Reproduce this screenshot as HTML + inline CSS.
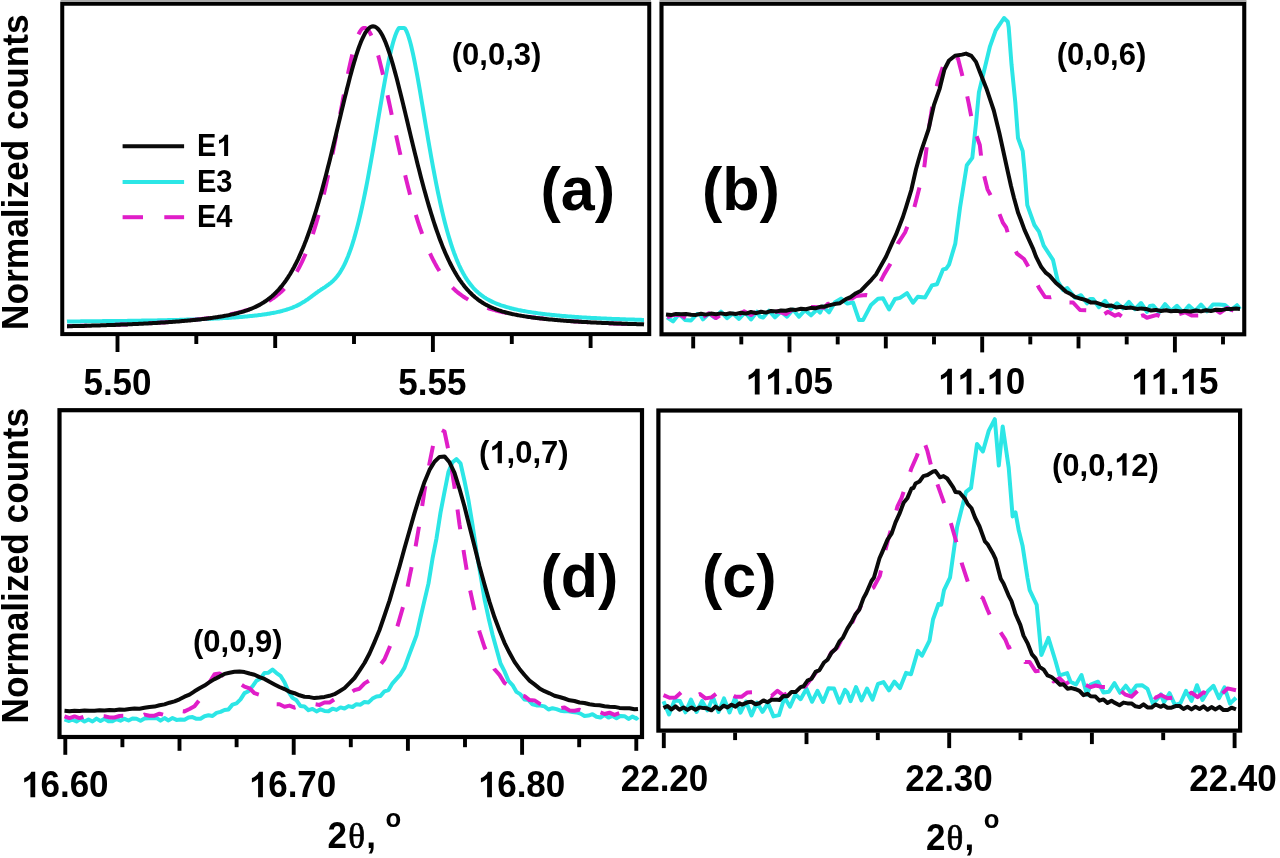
<!DOCTYPE html>
<html><head><meta charset="utf-8"><title>XRD peaks</title>
<style>html,body{margin:0;padding:0;background:#fff;}svg{display:block;filter:blur(0.55px);}</style>
</head><body>
<svg width="1280" height="858" viewBox="0 0 1280 858">
<rect width="1280" height="858" fill="#fff"/>
<defs><clipPath id="cla"><rect x="64.2" y="5.8" width="583.0" height="326.4"/></clipPath><clipPath id="clb"><rect x="663.5" y="5.8" width="578.6" height="326.4"/></clipPath><clipPath id="cld"><rect x="61.6" y="412.3" width="578.3" height="322.6"/></clipPath><clipPath id="clc"><rect x="660.5" y="412.6" width="577.5" height="315.9"/></clipPath></defs>
<g clip-path="url(#cla)">
<path d="M67.0 321.5L68.0 321.4L69.0 321.4L70.0 321.4L71.0 321.4L72.0 321.4L73.0 321.4L74.0 321.4L75.0 321.4L76.0 321.4L77.0 321.4L78.0 321.4L79.0 321.4L80.0 321.4L81.0 321.3L82.0 321.3L83.0 321.3L84.0 321.3L85.0 321.3L86.0 321.3L87.0 321.3L88.0 321.3L89.0 321.3L90.0 321.3L91.0 321.3L92.0 321.2L93.0 321.2L94.0 321.2L95.0 321.2L96.0 321.2L97.0 321.2L98.0 321.2L99.0 321.2L100.0 321.2L101.0 321.2L102.0 321.2L103.0 321.1L104.0 321.1L105.0 321.1L106.0 321.1L107.0 321.1L108.0 321.1L109.0 321.1L110.0 321.1L111.0 321.1L112.0 321.0L113.0 321.0L114.0 321.0L115.0 321.0L116.0 321.0L117.0 321.0L118.0 321.0L119.0 321.0L120.0 320.9L121.0 320.9L122.0 320.9L123.0 320.9L124.0 320.9L125.0 320.9L126.0 320.9L127.0 320.9L128.0 320.8L129.0 320.8L130.0 320.8L131.0 320.8L132.0 320.8L133.0 320.8L134.0 320.8L135.0 320.7L136.0 320.7L137.0 320.7L138.0 320.7L139.0 320.7L140.0 320.7L141.0 320.7L142.0 320.6L143.0 320.6L144.0 320.6L145.0 320.6L146.0 320.6L147.0 320.6L148.0 320.5L149.0 320.5L150.0 320.5L151.0 320.5L152.0 320.5L153.0 320.4L154.0 320.4L155.0 320.4L156.0 320.4L157.0 320.4L158.0 320.3L159.0 320.3L160.0 320.3L161.0 320.3L162.0 320.3L163.0 320.2L164.0 320.2L165.0 320.2L166.0 320.2L167.0 320.2L168.0 320.1L169.0 320.1L170.0 320.1L171.0 320.1L172.0 320.0L173.0 320.0L174.0 320.0L175.0 320.0L176.0 319.9L177.0 319.9L178.0 319.9L179.0 319.9L180.0 319.8L181.0 319.8L182.0 319.8L183.0 319.7L184.0 319.7L185.0 319.7L186.0 319.7L187.0 319.6L188.0 319.6L189.0 319.6L190.0 319.5L191.0 319.5L192.0 319.5L193.0 319.4L194.0 319.4L195.0 319.4L196.0 319.3L197.0 319.3L198.0 319.3L199.0 319.2L200.0 319.2L201.0 319.2L202.0 319.1L203.0 319.1L204.0 319.0L205.0 319.0L206.0 319.0L207.0 318.9L208.0 318.9L209.0 318.8L210.0 318.8L211.0 318.7L212.0 318.7L213.0 318.7L214.0 318.6L215.0 318.6L216.0 318.5L217.0 318.5L218.0 318.4L219.0 318.4L220.0 318.3L221.0 318.3L222.0 318.2L223.0 318.1L224.0 318.1L225.0 318.0L226.0 318.0L227.0 317.9L228.0 317.9L229.0 317.8L230.0 317.7L231.0 317.7L232.0 317.6L233.0 317.5L234.0 317.5L235.0 317.4L236.0 317.3L237.0 317.2L238.0 317.2L239.0 317.1L240.0 317.0L241.0 316.9L242.0 316.9L243.0 316.8L244.0 316.7L245.0 316.6L246.0 316.5L247.0 316.4L248.0 316.3L249.0 316.2L250.0 316.1L251.0 316.0L252.0 315.9L253.0 315.8L254.0 315.7L255.0 315.6L256.0 315.5L257.0 315.4L258.0 315.2L259.0 315.1L260.0 315.0L261.0 314.9L262.0 314.7L263.0 314.6L264.0 314.5L265.0 314.3L266.0 314.2L267.0 314.0L268.0 313.8L269.0 313.7L270.0 313.5L271.0 313.3L272.0 313.1L273.0 313.0L274.0 312.8L275.0 312.6L276.0 312.4L277.0 312.1L278.0 311.9L279.0 311.7L280.0 311.5L281.0 311.2L282.0 311.0L283.0 310.7L284.0 310.4L285.0 310.1L286.0 309.8L287.0 309.5L288.0 309.2L289.0 308.9L290.0 308.5L291.0 308.1L292.0 307.8L293.0 307.4L294.0 306.9L295.0 306.5L296.0 306.1L297.0 305.6L298.0 305.1L299.0 304.6L300.0 304.1L301.0 303.5L302.0 302.9L303.0 302.3L304.0 301.7L305.0 301.1L306.0 300.4L307.0 299.8L308.0 299.1L309.0 298.3L310.0 297.6L311.0 296.9L312.0 296.1L313.0 295.4L314.0 294.7L315.0 293.9L316.0 293.2L317.0 292.5L318.0 291.7L319.0 291.0L320.0 290.4L321.0 289.7L322.0 289.0L323.0 288.4L324.0 287.7L325.0 287.1L326.0 286.4L327.0 285.7L328.0 285.0L329.0 284.2L330.0 283.5L331.0 282.7L332.0 281.8L333.0 280.9L334.0 279.9L335.0 278.9L336.0 277.7L337.0 276.5L338.0 275.2L339.0 273.9L340.0 272.4L341.0 270.8L342.0 269.1L343.0 267.3L344.0 265.4L345.0 263.3L346.0 261.1L347.0 258.8L348.0 256.4L349.0 253.8L350.0 251.1L351.0 248.3L352.0 245.3L353.0 242.1L354.0 238.9L355.0 235.4L356.0 231.8L357.0 228.1L358.0 224.2L359.0 220.2L360.0 216.0L361.0 211.7L362.0 207.2L363.0 202.6L364.0 197.9L365.0 193.0L366.0 188.0L367.0 182.8L368.0 177.6L369.0 172.2L370.0 166.7L371.0 161.2L372.0 155.5L373.0 149.8L374.0 144.0L375.0 138.2L376.0 132.3L377.0 126.4L378.0 120.4L379.0 114.5L380.0 108.6L381.0 102.8L382.0 96.9L383.0 91.2L384.0 85.6L385.0 80.0L386.0 74.6L387.0 69.4L388.0 64.4L389.0 59.6L390.0 55.0L391.0 50.6L392.0 46.6L393.0 42.8L394.0 39.4L395.0 36.3L396.0 33.6L397.0 31.3L398.0 29.4L399.0 27.9L400.0 27.9L401.0 27.9L402.0 27.9L403.0 27.9L404.0 27.9L405.0 28.5L406.0 30.2L407.0 32.4L408.0 35.0L409.0 38.1L410.0 41.5L411.0 45.3L412.0 49.5L413.0 53.9L414.0 58.7L415.0 63.6L416.0 68.8L417.0 74.2L418.0 79.7L419.0 85.4L420.0 91.2L421.0 97.1L422.0 103.0L423.0 108.9L424.0 114.9L425.0 120.9L426.0 126.8L427.0 132.7L428.0 138.6L429.0 144.4L430.0 150.2L431.0 155.8L432.0 161.4L433.0 166.8L434.0 172.2L435.0 177.4L436.0 182.6L437.0 187.6L438.0 192.5L439.0 197.2L440.0 201.8L441.0 206.3L442.0 210.7L443.0 214.9L444.0 219.0L445.0 223.0L446.0 226.8L447.0 230.5L448.0 234.0L449.0 237.4L450.0 240.7L451.0 243.9L452.0 246.9L453.0 249.9L454.0 252.7L455.0 255.3L456.0 257.9L457.0 260.4L458.0 262.7L459.0 265.0L460.0 267.1L461.0 269.2L462.0 271.1L463.0 273.0L464.0 274.8L465.0 276.5L466.0 278.1L467.0 279.7L468.0 281.1L469.0 282.5L470.0 283.9L471.0 285.1L472.0 286.3L473.0 287.5L474.0 288.6L475.0 289.6L476.0 290.6L477.0 291.6L478.0 292.5L479.0 293.3L480.0 294.2L481.0 294.9L482.0 295.7L483.0 296.4L484.0 297.1L485.0 297.7L486.0 298.4L487.0 299.0L488.0 299.5L489.0 300.1L490.0 300.6L491.0 301.1L492.0 301.6L493.0 302.1L494.0 302.5L495.0 303.0L496.0 303.4L497.0 303.8L498.0 304.2L499.0 304.5L500.0 304.9L501.0 305.3L502.0 305.6L503.0 305.9L504.0 306.2L505.0 306.5L506.0 306.8L507.0 307.1L508.0 307.4L509.0 307.7L510.0 308.0L511.0 308.2L512.0 308.5L513.0 308.7L514.0 309.0L515.0 309.2L516.0 309.4L517.0 309.6L518.0 309.9L519.0 310.1L520.0 310.3L521.0 310.5L522.0 310.7L523.0 310.9L524.0 311.0L525.0 311.2L526.0 311.4L527.0 311.6L528.0 311.8L529.0 311.9L530.0 312.1L531.0 312.2L532.0 312.4L533.0 312.6L534.0 312.7L535.0 312.8L536.0 313.0L537.0 313.1L538.0 313.3L539.0 313.4L540.0 313.5L541.0 313.7L542.0 313.8L543.0 313.9L544.0 314.0L545.0 314.2L546.0 314.3L547.0 314.4L548.0 314.5L549.0 314.6L550.0 314.7L551.0 314.8L552.0 314.9L553.0 315.0L554.0 315.1L555.0 315.2L556.0 315.3L557.0 315.4L558.0 315.5L559.0 315.6L560.0 315.7L561.0 315.8L562.0 315.9L563.0 316.0L564.0 316.1L565.0 316.1L566.0 316.2L567.0 316.3L568.0 316.4L569.0 316.5L570.0 316.5L571.0 316.6L572.0 316.7L573.0 316.8L574.0 316.8L575.0 316.9L576.0 317.0L577.0 317.0L578.0 317.1L579.0 317.2L580.0 317.2L581.0 317.3L582.0 317.4L583.0 317.4L584.0 317.5L585.0 317.5L586.0 317.6L587.0 317.7L588.0 317.7L589.0 317.8L590.0 317.8L591.0 317.9L592.0 317.9L593.0 318.0L594.0 318.0L595.0 318.1L596.0 318.1L597.0 318.2L598.0 318.2L599.0 318.3L600.0 318.3L601.0 318.4L602.0 318.4L603.0 318.5L604.0 318.5L605.0 318.6L606.0 318.6L607.0 318.7L608.0 318.7L609.0 318.7L610.0 318.8L611.0 318.8L612.0 318.9L613.0 318.9L614.0 318.9L615.0 319.0L616.0 319.0L617.0 319.1L618.0 319.1L619.0 319.1L620.0 319.2L621.0 319.2L622.0 319.2L623.0 319.3L624.0 319.3L625.0 319.3L626.0 319.4L627.0 319.4L628.0 319.4L629.0 319.5L630.0 319.5L631.0 319.5L632.0 319.6L633.0 319.6L634.0 319.6L635.0 319.7L636.0 319.7L637.0 319.7L638.0 319.8L639.0 319.8L640.0 319.8L641.0 319.8L642.0 319.9L643.0 319.9L644.0 319.9" fill="none" stroke="#2ce6e6" stroke-width="4.0" stroke-linejoin="round"/>
<path d="M67.0 326.2L68.0 326.2L69.0 326.1L70.0 326.1L71.0 326.1L72.0 326.1L73.0 326.0L74.0 326.0L75.0 326.0L76.0 326.0L77.0 325.9L78.0 325.9L79.0 325.9L80.0 325.9L81.0 325.8L82.0 325.8L83.0 325.8L84.0 325.8L85.0 325.7L86.0 325.7L87.0 325.7L88.0 325.7L89.0 325.6L90.0 325.6L91.0 325.6L92.0 325.6L93.0 325.5L94.0 325.5L95.0 325.5L96.0 325.4L97.0 325.4L98.0 325.4L99.0 325.3L100.0 325.3L101.0 325.3L102.0 325.3L103.0 325.2L104.0 325.2L105.0 325.2L106.0 325.1L107.0 325.1L108.0 325.1L109.0 325.0L110.0 325.0L111.0 325.0L112.0 324.9L113.0 324.9L114.0 324.9L115.0 324.8L116.0 324.8L117.0 324.7L118.0 324.7L119.0 324.7L120.0 324.6L121.0 324.6L122.0 324.6L123.0 324.5L124.0 324.5L125.0 324.4L126.0 324.4L127.0 324.4L128.0 324.3L129.0 324.3L130.0 324.2L131.0 324.2L132.0 324.1L133.0 324.1L134.0 324.0L135.0 324.0L136.0 324.0L137.0 323.9L138.0 323.9L139.0 323.8L140.0 323.8L141.0 323.7L142.0 323.7L143.0 323.6L144.0 323.6L145.0 323.5L146.0 323.5L147.0 323.4L148.0 323.4L149.0 323.3L150.0 323.2L151.0 323.2L152.0 323.1L153.0 323.1L154.0 323.0L155.0 323.0L156.0 322.9L157.0 322.8L158.0 322.8L159.0 322.7L160.0 322.6L161.0 322.6L162.0 322.5L163.0 322.4L164.0 322.4L165.0 322.3L166.0 322.2L167.0 322.2L168.0 322.1L169.0 322.0L170.0 322.0L171.0 321.9L172.0 321.8L173.0 321.7L174.0 321.7L175.0 321.6L176.0 321.5L177.0 321.4L178.0 321.3L179.0 321.2L180.0 321.2L181.0 321.1L182.0 321.0L183.0 320.9L184.0 320.8L185.0 320.7L186.0 320.6L187.0 320.5L188.0 320.4L189.0 320.3L190.0 320.2L191.0 320.1L192.0 320.0L193.0 319.9L194.0 319.8L195.0 319.7L196.0 319.6L197.0 319.5L198.0 319.4L199.0 319.3L200.0 319.1L201.0 319.0L202.0 318.9L203.0 318.8L204.0 318.7L205.0 318.5L206.0 318.4L207.0 318.3L208.0 318.1L209.0 318.0L210.0 317.9L211.0 317.7L212.0 317.6L213.0 317.4L214.0 317.3L215.0 317.1L216.0 317.0L217.0 316.8L218.0 316.6L219.0 316.5L220.0 316.3L221.0 316.1L222.0 316.0L223.0 315.8L224.0 315.6L225.0 315.4L226.0 315.2L227.0 315.0L228.0 314.8L229.0 314.6L230.0 314.4L231.0 314.2L232.0 314.0L233.0 313.8L234.0 313.6L235.0 313.3L236.0 313.1L237.0 312.9L238.0 312.6L239.0 312.4L240.0 312.1L241.0 311.8L242.0 311.6L243.0 311.3L244.0 311.0L245.0 310.7L246.0 310.4L247.0 310.1L248.0 309.8L249.0 309.5L250.0 309.2L251.0 308.9L252.0 308.5L253.0 308.2L254.0 307.8L255.0 307.4L256.0 307.0L257.0 306.6L258.0 306.2L259.0 305.8L260.0 305.4L261.0 304.9L262.0 304.5L263.0 304.0L264.0 303.5L265.0 303.0L266.0 302.5L267.0 301.9L268.0 301.4L269.0 300.8L270.0 300.2L271.0 299.6L272.0 298.9L273.0 298.3L274.0 297.6L275.0 296.8L276.0 296.1L277.0 295.3L278.0 294.5L279.0 293.7L280.0 292.8L281.0 291.9L282.0 291.0L283.0 290.0L284.0 289.0L285.0 287.9L286.0 286.8L287.0 285.7L288.0 284.5L289.0 283.3L290.0 282.0L291.0 280.6L292.0 279.3L293.0 277.8L294.0 276.3L295.0 274.7L296.0 273.1L297.0 271.4L298.0 269.6L299.0 267.8L300.0 265.9L301.0 263.9L302.0 261.9L303.0 259.7L304.0 257.5L305.0 255.2L306.0 252.8L307.0 250.3L308.0 247.8L309.0 245.1L310.0 242.4L311.0 239.6L312.0 236.6L313.0 233.6L314.0 230.5L315.0 227.2L316.0 223.9L317.0 220.4L318.0 216.9L319.0 213.3L320.0 209.5L321.0 205.7L322.0 201.7L323.0 197.6L324.0 193.5L325.0 189.2L326.0 184.8L327.0 180.4L328.0 175.8L329.0 171.1L330.0 166.4L331.0 161.6L332.0 156.6L333.0 151.6L334.0 146.6L335.0 141.5L336.0 136.3L337.0 131.0L338.0 125.8L339.0 120.5L340.0 115.2L341.0 109.8L342.0 104.5L343.0 99.2L344.0 94.0L345.0 88.8L346.0 83.7L347.0 78.6L348.0 73.7L349.0 68.9L350.0 64.3L351.0 59.9L352.0 55.6L353.0 51.6L354.0 47.8L355.0 44.3L356.0 41.1L357.0 38.2L358.0 35.6L359.0 33.4L360.0 31.5L361.0 30.0L362.0 28.9L363.0 28.2L364.0 27.9L365.0 27.9L366.0 28.3L367.0 29.0L368.0 30.0L369.0 31.3L370.0 32.9L371.0 34.8L372.0 36.9L373.0 39.3L374.0 42.0L375.0 44.9L376.0 48.0L377.0 51.3L378.0 54.8L379.0 58.5L380.0 62.4L381.0 66.4L382.0 70.5L383.0 74.8L384.0 79.2L385.0 83.6L386.0 88.1L387.0 92.7L388.0 97.3L389.0 102.0L390.0 106.7L391.0 111.4L392.0 116.1L393.0 120.8L394.0 125.5L395.0 130.2L396.0 134.9L397.0 139.5L398.0 144.1L399.0 148.6L400.0 153.1L401.0 157.5L402.0 161.9L403.0 166.2L404.0 170.4L405.0 174.6L406.0 178.7L407.0 182.7L408.0 186.7L409.0 190.6L410.0 194.4L411.0 198.1L412.0 201.7L413.0 205.3L414.0 208.7L415.0 212.1L416.0 215.4L417.0 218.7L418.0 221.8L419.0 224.9L420.0 227.8L421.0 230.7L422.0 233.5L423.0 236.3L424.0 238.9L425.0 241.5L426.0 244.0L427.0 246.5L428.0 248.8L429.0 251.1L430.0 253.3L431.0 255.5L432.0 257.6L433.0 259.6L434.0 261.5L435.0 263.4L436.0 265.2L437.0 267.0L438.0 268.7L439.0 270.3L440.0 271.9L441.0 273.4L442.0 274.9L443.0 276.3L444.0 277.7L445.0 279.0L446.0 280.3L447.0 281.6L448.0 282.7L449.0 283.9L450.0 285.0L451.0 286.1L452.0 287.1L453.0 288.1L454.0 289.1L455.0 290.0L456.0 290.9L457.0 291.8L458.0 292.6L459.0 293.4L460.0 294.2L461.0 294.9L462.0 295.6L463.0 296.3L464.0 297.0L465.0 297.7L466.0 298.3L467.0 298.9L468.0 299.5L469.0 300.1L470.0 300.6L471.0 301.1L472.0 301.7L473.0 302.2L474.0 302.7L475.0 303.1L476.0 303.6L477.0 304.0L478.0 304.5L479.0 304.9L480.0 305.3L481.0 305.7L482.0 306.1L483.0 306.4L484.0 306.8L485.0 307.1L486.0 307.5L487.0 307.8L488.0 308.2L489.0 308.5L490.0 308.8L491.0 309.1L492.0 309.4L493.0 309.7L494.0 309.9L495.0 310.2L496.0 310.5L497.0 310.8L498.0 311.0L499.0 311.3L500.0 311.5L501.0 311.7L502.0 312.0L503.0 312.2L504.0 312.4L505.0 312.7L506.0 312.9L507.0 313.1L508.0 313.3L509.0 313.5L510.0 313.7L511.0 313.9L512.0 314.1L513.0 314.3L514.0 314.5L515.0 314.6L516.0 314.8L517.0 315.0L518.0 315.2L519.0 315.3L520.0 315.5L521.0 315.7L522.0 315.8L523.0 316.0L524.0 316.1L525.0 316.3L526.0 316.4L527.0 316.6L528.0 316.7L529.0 316.9L530.0 317.0L531.0 317.1L532.0 317.3L533.0 317.4L534.0 317.5L535.0 317.6L536.0 317.8L537.0 317.9L538.0 318.0L539.0 318.1L540.0 318.3L541.0 318.4L542.0 318.5L543.0 318.6L544.0 318.7L545.0 318.8L546.0 318.9L547.0 319.0L548.0 319.1L549.0 319.2L550.0 319.3L551.0 319.4L552.0 319.5L553.0 319.6L554.0 319.7L555.0 319.8L556.0 319.9L557.0 320.0L558.0 320.1L559.0 320.2L560.0 320.3L561.0 320.3L562.0 320.4L563.0 320.5L564.0 320.6L565.0 320.7L566.0 320.8L567.0 320.8L568.0 320.9L569.0 321.0L570.0 321.1L571.0 321.1L572.0 321.2L573.0 321.3L574.0 321.3L575.0 321.4L576.0 321.5L577.0 321.6L578.0 321.6L579.0 321.7L580.0 321.8L581.0 321.8L582.0 321.9L583.0 321.9L584.0 322.0L585.0 322.1L586.0 322.1L587.0 322.2L588.0 322.2L589.0 322.3L590.0 322.4L591.0 322.4L592.0 322.5L593.0 322.5L594.0 322.6L595.0 322.6L596.0 322.7L597.0 322.7L598.0 322.8L599.0 322.8L600.0 322.9L601.0 322.9L602.0 323.0L603.0 323.0L604.0 323.1L605.0 323.1L606.0 323.2L607.0 323.2L608.0 323.3L609.0 323.3L610.0 323.4L611.0 323.4L612.0 323.5L613.0 323.5L614.0 323.5L615.0 323.6L616.0 323.6L617.0 323.7L618.0 323.7L619.0 323.7L620.0 323.8L621.0 323.8L622.0 323.9L623.0 323.9L624.0 323.9L625.0 324.0L626.0 324.0L627.0 324.1L628.0 324.1L629.0 324.1L630.0 324.2L631.0 324.2L632.0 324.2L633.0 324.3L634.0 324.3L635.0 324.3L636.0 324.4L637.0 324.4L638.0 324.4L639.0 324.5L640.0 324.5L641.0 324.5L642.0 324.6L643.0 324.6L644.0 324.6" fill="none" stroke="#e01ec8" stroke-width="4.0" stroke-linejoin="round" stroke-dasharray="20 21"/>
<path d="M67.0 326.3L68.0 326.3L69.0 326.2L70.0 326.2L71.0 326.2L72.0 326.2L73.0 326.1L74.0 326.1L75.0 326.1L76.0 326.1L77.0 326.0L78.0 326.0L79.0 326.0L80.0 326.0L81.0 325.9L82.0 325.9L83.0 325.9L84.0 325.9L85.0 325.8L86.0 325.8L87.0 325.8L88.0 325.7L89.0 325.7L90.0 325.7L91.0 325.7L92.0 325.6L93.0 325.6L94.0 325.6L95.0 325.5L96.0 325.5L97.0 325.5L98.0 325.4L99.0 325.4L100.0 325.4L101.0 325.3L102.0 325.3L103.0 325.3L104.0 325.3L105.0 325.2L106.0 325.2L107.0 325.1L108.0 325.1L109.0 325.1L110.0 325.0L111.0 325.0L112.0 325.0L113.0 324.9L114.0 324.9L115.0 324.9L116.0 324.8L117.0 324.8L118.0 324.8L119.0 324.7L120.0 324.7L121.0 324.6L122.0 324.6L123.0 324.6L124.0 324.5L125.0 324.5L126.0 324.4L127.0 324.4L128.0 324.3L129.0 324.3L130.0 324.3L131.0 324.2L132.0 324.2L133.0 324.1L134.0 324.1L135.0 324.0L136.0 324.0L137.0 323.9L138.0 323.9L139.0 323.8L140.0 323.8L141.0 323.8L142.0 323.7L143.0 323.7L144.0 323.6L145.0 323.5L146.0 323.5L147.0 323.4L148.0 323.4L149.0 323.3L150.0 323.3L151.0 323.2L152.0 323.2L153.0 323.1L154.0 323.1L155.0 323.0L156.0 322.9L157.0 322.9L158.0 322.8L159.0 322.8L160.0 322.7L161.0 322.6L162.0 322.6L163.0 322.5L164.0 322.4L165.0 322.4L166.0 322.3L167.0 322.2L168.0 322.2L169.0 322.1L170.0 322.0L171.0 322.0L172.0 321.9L173.0 321.8L174.0 321.7L175.0 321.7L176.0 321.6L177.0 321.5L178.0 321.4L179.0 321.4L180.0 321.3L181.0 321.2L182.0 321.1L183.0 321.0L184.0 320.9L185.0 320.8L186.0 320.8L187.0 320.7L188.0 320.6L189.0 320.5L190.0 320.4L191.0 320.3L192.0 320.2L193.0 320.1L194.0 320.0L195.0 319.9L196.0 319.8L197.0 319.7L198.0 319.6L199.0 319.5L200.0 319.4L201.0 319.3L202.0 319.1L203.0 319.0L204.0 318.9L205.0 318.8L206.0 318.7L207.0 318.5L208.0 318.4L209.0 318.3L210.0 318.2L211.0 318.0L212.0 317.9L213.0 317.7L214.0 317.6L215.0 317.5L216.0 317.3L217.0 317.2L218.0 317.0L219.0 316.8L220.0 316.7L221.0 316.5L222.0 316.4L223.0 316.2L224.0 316.0L225.0 315.8L226.0 315.6L227.0 315.4L228.0 315.3L229.0 315.1L230.0 314.8L231.0 314.6L232.0 314.4L233.0 314.2L234.0 314.0L235.0 313.7L236.0 313.5L237.0 313.2L238.0 313.0L239.0 312.7L240.0 312.4L241.0 312.2L242.0 311.9L243.0 311.6L244.0 311.3L245.0 310.9L246.0 310.6L247.0 310.3L248.0 309.9L249.0 309.6L250.0 309.2L251.0 308.8L252.0 308.4L253.0 308.0L254.0 307.5L255.0 307.1L256.0 306.6L257.0 306.1L258.0 305.6L259.0 305.1L260.0 304.6L261.0 304.0L262.0 303.4L263.0 302.8L264.0 302.2L265.0 301.5L266.0 300.8L267.0 300.1L268.0 299.4L269.0 298.6L270.0 297.9L271.0 297.0L272.0 296.2L273.0 295.3L274.0 294.4L275.0 293.4L276.0 292.5L277.0 291.4L278.0 290.4L279.0 289.3L280.0 288.1L281.0 286.9L282.0 285.7L283.0 284.4L284.0 283.1L285.0 281.8L286.0 280.4L287.0 278.9L288.0 277.4L289.0 275.8L290.0 274.2L291.0 272.5L292.0 270.8L293.0 269.0L294.0 267.2L295.0 265.3L296.0 263.3L297.0 261.3L298.0 259.3L299.0 257.1L300.0 254.9L301.0 252.6L302.0 250.3L303.0 247.9L304.0 245.5L305.0 242.9L306.0 240.4L307.0 237.7L308.0 235.0L309.0 232.2L310.0 229.3L311.0 226.4L312.0 223.4L313.0 220.4L314.0 217.2L315.0 214.0L316.0 210.8L317.0 207.5L318.0 204.1L319.0 200.7L320.0 197.2L321.0 193.6L322.0 190.0L323.0 186.3L324.0 182.6L325.0 178.8L326.0 175.0L327.0 171.1L328.0 167.1L329.0 163.2L330.0 159.2L331.0 155.1L332.0 151.0L333.0 146.9L334.0 142.8L335.0 138.6L336.0 134.5L337.0 130.3L338.0 126.1L339.0 121.9L340.0 117.7L341.0 113.5L342.0 109.3L343.0 105.2L344.0 101.0L345.0 96.9L346.0 92.9L347.0 88.8L348.0 84.9L349.0 81.0L350.0 77.1L351.0 73.4L352.0 69.7L353.0 66.1L354.0 62.6L355.0 59.3L356.0 56.0L357.0 52.9L358.0 49.9L359.0 47.0L360.0 44.4L361.0 41.8L362.0 39.5L363.0 37.3L364.0 35.3L365.0 33.4L366.0 31.8L367.0 30.4L368.0 29.2L369.0 28.2L370.0 27.4L371.0 26.8L372.0 26.4L373.0 26.3L374.0 26.4L375.0 26.7L376.0 27.2L377.0 28.0L378.0 28.9L379.0 30.1L380.0 31.4L381.0 33.0L382.0 34.7L383.0 36.7L384.0 38.8L385.0 41.1L386.0 43.6L387.0 46.2L388.0 49.0L389.0 51.9L390.0 55.0L391.0 58.2L392.0 61.5L393.0 64.9L394.0 68.5L395.0 72.1L396.0 75.8L397.0 79.6L398.0 83.5L399.0 87.4L400.0 91.4L401.0 95.4L402.0 99.5L403.0 103.6L404.0 107.8L405.0 111.9L406.0 116.1L407.0 120.3L408.0 124.5L409.0 128.7L410.0 132.9L411.0 137.1L412.0 141.2L413.0 145.4L414.0 149.5L415.0 153.6L416.0 157.6L417.0 161.7L418.0 165.7L419.0 169.6L420.0 173.5L421.0 177.4L422.0 181.2L423.0 185.0L424.0 188.7L425.0 192.3L426.0 195.9L427.0 199.5L428.0 202.9L429.0 206.4L430.0 209.7L431.0 213.0L432.0 216.2L433.0 219.4L434.0 222.5L435.0 225.5L436.0 228.5L437.0 231.4L438.0 234.2L439.0 237.0L440.0 239.7L441.0 242.3L442.0 244.9L443.0 247.4L444.0 249.8L445.0 252.2L446.0 254.5L447.0 256.7L448.0 258.9L449.0 261.0L450.0 263.0L451.0 265.0L452.0 266.9L453.0 268.8L454.0 270.6L455.0 272.4L456.0 274.0L457.0 275.7L458.0 277.3L459.0 278.8L460.0 280.3L461.0 281.7L462.0 283.1L463.0 284.4L464.0 285.7L465.0 287.0L466.0 288.2L467.0 289.3L468.0 290.4L469.0 291.5L470.0 292.6L471.0 293.5L472.0 294.5L473.0 295.4L474.0 296.3L475.0 297.2L476.0 298.0L477.0 298.8L478.0 299.6L479.0 300.3L480.0 301.0L481.0 301.7L482.0 302.3L483.0 303.0L484.0 303.6L485.0 304.2L486.0 304.7L487.0 305.3L488.0 305.8L489.0 306.3L490.0 306.8L491.0 307.2L492.0 307.7L493.0 308.1L494.0 308.5L495.0 308.9L496.0 309.3L497.0 309.7L498.0 310.0L499.0 310.4L500.0 310.7L501.0 311.0L502.0 311.4L503.0 311.7L504.0 311.9L505.0 312.2L506.0 312.5L507.0 312.8L508.0 313.0L509.0 313.3L510.0 313.5L511.0 313.7L512.0 314.0L513.0 314.2L514.0 314.4L515.0 314.6L516.0 314.8L517.0 315.0L518.0 315.2L519.0 315.4L520.0 315.6L521.0 315.7L522.0 315.9L523.0 316.1L524.0 316.2L525.0 316.4L526.0 316.6L527.0 316.7L528.0 316.9L529.0 317.0L530.0 317.1L531.0 317.3L532.0 317.4L533.0 317.6L534.0 317.7L535.0 317.8L536.0 317.9L537.0 318.1L538.0 318.2L539.0 318.3L540.0 318.4L541.0 318.5L542.0 318.6L543.0 318.7L544.0 318.9L545.0 319.0L546.0 319.1L547.0 319.2L548.0 319.3L549.0 319.4L550.0 319.5L551.0 319.6L552.0 319.6L553.0 319.7L554.0 319.8L555.0 319.9L556.0 320.0L557.0 320.1L558.0 320.2L559.0 320.3L560.0 320.3L561.0 320.4L562.0 320.5L563.0 320.6L564.0 320.7L565.0 320.7L566.0 320.8L567.0 320.9L568.0 320.9L569.0 321.0L570.0 321.1L571.0 321.2L572.0 321.2L573.0 321.3L574.0 321.4L575.0 321.4L576.0 321.5L577.0 321.6L578.0 321.6L579.0 321.7L580.0 321.7L581.0 321.8L582.0 321.9L583.0 321.9L584.0 322.0L585.0 322.0L586.0 322.1L587.0 322.1L588.0 322.2L589.0 322.2L590.0 322.3L591.0 322.4L592.0 322.4L593.0 322.5L594.0 322.5L595.0 322.6L596.0 322.6L597.0 322.7L598.0 322.7L599.0 322.7L600.0 322.8L601.0 322.8L602.0 322.9L603.0 322.9L604.0 323.0L605.0 323.0L606.0 323.1L607.0 323.1L608.0 323.1L609.0 323.2L610.0 323.2L611.0 323.3L612.0 323.3L613.0 323.3L614.0 323.4L615.0 323.4L616.0 323.5L617.0 323.5L618.0 323.5L619.0 323.6L620.0 323.6L621.0 323.6L622.0 323.7L623.0 323.7L624.0 323.7L625.0 323.8L626.0 323.8L627.0 323.8L628.0 323.9L629.0 323.9L630.0 323.9L631.0 324.0L632.0 324.0L633.0 324.0L634.0 324.1L635.0 324.1L636.0 324.1L637.0 324.2L638.0 324.2L639.0 324.2L640.0 324.2L641.0 324.3L642.0 324.3L643.0 324.3L644.0 324.4" fill="none" stroke="#0a0a0a" stroke-width="4.0" stroke-linejoin="round"/>
</g>
<g clip-path="url(#clb)">
<path d="M667.0 317.3L673.0 321.4L679.0 314.1L685.0 319.9L691.0 320.5L697.0 314.0L700.0 314.4L703.0 319.4L709.0 313.6L715.0 317.9L721.0 311.6L727.0 318.2L733.0 313.5L739.0 318.9L745.0 312.3L751.0 319.4L757.0 311.7L760.0 316.7L763.0 317.6L769.0 310.7L775.0 317.3L781.0 311.6L787.0 316.6L793.0 309.5L799.0 316.7L805.0 310.2L811.0 315.3L817.0 309.6L820.0 312.6L823.0 306.6L829.0 312.3L835.0 302.3L841.0 298.6L847.5 303.6L853.0 302.4L859.0 320.0L863.0 320.1L871.0 305.0L878.0 298.8L883.0 298.3L889.0 309.4L895.0 299.0L900.0 297.9L907.0 293.1L913.0 302.7L917.8 296.8L925.0 297.6L931.9 285.4L937.0 284.2L943.0 269.4L946.0 268.8L949.0 264.6L955.3 243.6L960.0 207.7L966.8 165.2L972.3 157.9L976.0 123.4L978.9 92.4L983.5 73.3L990.0 46.3L995.7 30.4L1004.0 18.0L1007.8 21.7L1008.7 27.4L1011.5 64.3L1015.3 102.4L1018.0 138.0L1022.7 151.1L1024.6 171.0L1027.3 205.1L1034.4 225.0L1039.0 231.7L1043.7 245.7L1053.0 259.9L1057.8 281.2L1063.0 290.1L1067.2 288.1L1075.0 297.8L1081.0 295.2L1087.0 303.3L1090.0 299.0L1093.0 299.0L1099.0 307.2L1105.0 300.8L1111.0 308.9L1117.0 303.3L1123.0 308.5L1129.0 301.9L1135.0 309.2L1141.0 303.0L1147.0 311.8L1150.0 305.9L1153.0 305.4L1159.0 312.4L1165.0 304.2L1171.0 310.9L1177.0 305.8L1183.0 312.5L1189.0 305.6L1195.0 311.1L1201.0 304.7L1207.0 311.3L1213.0 304.5L1219.0 304.6L1225.0 305.0L1231.0 310.0L1237.0 305.2L1240.0 309.3" fill="none" stroke="#2ce6e6" stroke-width="4.0" stroke-linejoin="round"/>
<path d="M667.0 317.3L674.0 314.7L681.0 315.3L688.0 319.5L695.0 314.1L702.0 318.0L709.0 313.2L716.0 318.0L723.0 313.4L730.0 316.7L737.0 316.1L744.0 311.3L751.0 315.1L758.0 310.6L765.0 315.4L772.0 313.7L777.0 311.2L786.0 314.2L793.0 309.1L800.0 312.0L807.0 307.1L814.0 307.1L824.0 307.7L828.0 303.7L835.0 305.1L842.0 299.1L852.0 298.6L856.0 296.0L866.0 295.0L870.0 295.8L880.0 282.5L884.0 274.6L891.0 262.9L894.4 252.7L898.0 243.3L905.0 232.5L913.0 212.3L919.0 189.2L923.6 172.4L929.4 124.8L933.0 101.7L937.8 81.9L944.0 63.4L952.8 54.5L958.0 58.6L964.9 85.6L968.6 102.8L973.3 126.9L979.8 145.0L982.7 170.1L987.5 189.3L996.0 205.6L999.2 213.3L1003.0 222.9L1006.2 227.5L1010.0 240.5L1013.3 246.1L1017.0 253.7L1024.0 259.0L1032.0 273.1L1039.0 287.8L1045.0 297.0L1050.8 297.2L1057.8 295.5L1066.0 302.4L1073.0 302.5L1080.0 310.0L1086.0 310.2L1094.0 310.4L1101.0 316.2L1108.0 311.7L1115.0 315.7L1118.7 314.1L1122.0 316.6L1129.0 314.3L1136.0 317.7L1143.0 315.3L1146.9 317.7L1157.0 314.9L1164.0 318.2L1171.0 318.2L1177.3 314.7L1185.0 312.3L1192.0 315.6L1199.0 315.5L1206.0 314.6L1213.0 308.4L1220.0 312.8L1227.0 307.9L1234.0 310.8L1240.0 306.7" fill="none" stroke="#e01ec8" stroke-width="4.0" stroke-linejoin="round" stroke-dasharray="20 21"/>
<path d="M666.0 314.5L671.0 315.1L676.0 313.9L681.0 314.2L686.0 314.0L691.0 314.8L696.0 314.9L701.0 313.7L706.0 314.6L711.0 313.6L716.0 314.2L721.0 313.4L726.0 314.2L730.0 313.3L736.0 313.9L741.0 312.7L746.0 313.6L751.0 312.0L756.0 313.1L761.0 311.8L766.0 312.6L771.0 310.9L777.0 311.4L781.0 310.5L786.0 310.8L791.0 309.5L796.0 309.9L801.0 308.8L806.0 309.2L811.0 307.9L816.0 308.2L821.0 306.6L824.0 306.7L831.0 304.9L836.0 303.8L840.0 303.2L846.0 299.1L850.5 297.1L856.0 293.2L861.0 290.7L866.0 285.4L871.4 279.8L876.0 274.5L881.9 264.1L886.0 256.8L892.4 242.4L896.0 234.7L902.9 217.0L906.0 207.3L911.3 190.0L916.0 169.3L918.5 160.2L921.0 151.7L926.0 136.8L928.5 129.5L931.0 118.1L934.0 104.9L939.7 88.6L944.4 69.5L949.0 60.5L955.0 55.8L962.0 54.6L966.0 53.6L971.4 55.9L976.0 61.9L979.8 71.7L986.3 88.2L991.0 102.1L993.8 110.5L999.4 133.2L1007.7 171.3L1011.0 186.0L1014.0 198.0L1018.2 213.1L1021.0 220.2L1024.5 229.9L1032.9 248.3L1036.0 256.6L1041.3 267.1L1046.0 272.9L1049.6 275.6L1056.0 283.0L1062.2 288.1L1066.0 291.8L1071.0 294.3L1074.8 296.9L1081.0 298.8L1086.0 300.1L1091.0 302.6L1096.0 302.6L1099.7 303.8L1106.0 305.9L1111.0 305.4L1116.0 307.4L1121.0 306.7L1126.0 308.1L1131.0 307.6L1137.5 309.0L1141.0 308.4L1146.0 308.9L1151.0 310.6L1156.0 309.9L1161.0 311.0L1166.0 310.2L1171.0 311.3L1176.0 310.7L1181.0 311.5L1184.4 310.9L1191.0 311.5L1196.0 310.5L1201.0 311.4L1206.0 310.2L1211.0 311.0L1216.0 309.8L1221.0 310.1L1226.0 309.1L1231.0 308.9L1236.0 308.6L1240.0 309.0" fill="none" stroke="#0a0a0a" stroke-width="4.0" stroke-linejoin="round"/>
</g>
<g clip-path="url(#cld)">
<path d="M64.5 719.5L68.5 721.0L72.5 719.7L76.5 721.5L80.5 719.1L84.5 721.6L88.5 719.4L92.5 721.5L96.5 718.6L100.5 721.0L104.5 718.8L108.5 721.3L112.5 721.2L116.5 719.1L120.5 720.7L124.5 718.8L128.5 720.5L132.5 718.4L136.5 718.8L140.5 720.8L144.5 718.5L148.5 718.3L152.5 718.3L156.5 717.9L160.5 720.6L164.5 718.1L168.5 720.4L172.5 718.0L176.5 719.9L180.5 719.6L184.5 719.8L188.5 717.5L192.5 717.1L196.5 718.8L200.5 718.7L204.5 716.2L208.5 715.3L212.5 716.0L216.5 712.9L220.5 711.9L224.5 710.0L228.5 709.4L232.5 704.6L236.5 703.4L240.5 699.4L244.5 693.1L248.5 691.2L252.5 686.3L256.5 680.7L260.5 678.4L264.5 672.9L268.5 672.7L272.5 669.6L276.5 673.1L280.5 675.8L284.5 682.2L288.5 691.6L292.5 697.9L296.5 700.3L300.5 706.1L304.5 706.5L308.5 710.2L312.5 708.9L316.5 711.4L320.5 709.3L324.5 710.9L328.5 711.3L332.5 708.7L336.5 709.9L340.5 707.4L344.5 708.5L348.5 706.1L352.5 707.0L356.5 704.2L360.5 704.7L364.5 701.9L368.5 702.4L372.5 698.6L376.5 696.5L380.5 695.9L384.5 691.3L388.5 690.1L392.5 683.3L396.5 678.8L400.5 674.3L404.5 667.6L408.5 656.6L412.5 646.0L416.5 635.4L420.5 617.6L424.5 600.4L428.5 583.4L432.5 558.7L436.5 538.3L440.5 512.6L444.5 491.8L448.5 471.7L452.5 462.3L456.5 459.1L460.5 463.3L464.5 481.0L468.5 500.5L472.5 524.9L476.5 551.9L480.5 575.0L484.5 599.0L488.5 617.7L492.5 634.5L496.5 649.0L500.5 663.5L504.5 671.4L508.5 680.9L512.5 685.1L516.5 691.9L520.5 694.4L524.5 699.5L528.5 700.1L532.5 704.4L536.5 705.4L540.5 705.6L544.5 706.4L548.5 709.5L552.5 708.2L556.5 709.1L560.5 710.7L564.5 711.3L568.5 711.3L572.5 711.9L576.5 712.4L580.5 713.6L584.5 716.0L588.5 715.6L592.5 714.2L596.5 716.7L600.5 717.5L604.5 714.9L608.5 717.6L612.5 716.0L616.5 718.2L620.5 716.1L624.5 716.2L628.5 718.9L632.5 716.6L636.5 718.6L638.0 717.1" fill="none" stroke="#2ce6e6" stroke-width="4.0" stroke-linejoin="round"/>
<path d="M64.5 716.3L69.5 718.1L74.5 716.4L79.5 718.1L84.5 716.4L89.5 718.2L94.5 717.7L99.5 715.8L104.5 716.3L109.5 717.4L114.5 717.5L119.5 716.0L124.5 715.8L129.5 716.9L134.5 716.8L139.5 716.8L144.5 714.6L149.5 715.8L154.5 715.7L159.5 713.7L164.5 715.1L169.5 712.6L174.5 713.3L179.5 710.9L184.5 711.4L189.5 709.0L194.5 706.2L199.5 699.8L204.5 694.1L209.5 682.3L214.5 674.2L219.5 673.6L224.5 676.3L229.5 676.1L234.5 678.7L239.5 683.4L244.5 686.6L249.5 688.3L254.5 693.2L259.5 694.8L264.5 699.5L269.5 700.6L274.5 704.1L279.5 704.2L284.5 706.7L289.5 705.6L294.5 707.7L299.5 706.2L304.5 707.2L309.5 706.7L314.5 704.2L319.5 704.9L324.5 702.5L329.5 702.6L334.5 699.2L339.5 699.6L344.5 697.2L349.5 693.4L354.5 690.1L359.5 688.7L364.5 683.4L369.5 680.3L374.5 673.1L379.5 665.9L384.5 659.3L389.5 647.4L394.5 636.2L399.5 619.1L404.5 601.8L409.5 577.2L414.5 553.0L419.5 523.6L424.5 490.8L429.5 463.3L434.5 438.6L439.5 429.0L444.5 431.5L449.5 455.4L454.5 487.0L459.5 524.5L464.5 556.5L469.5 587.4L474.5 610.1L479.5 631.8L484.5 647.1L489.5 658.0L494.5 669.2L499.5 674.9L504.5 683.0L509.5 686.1L514.5 691.5L519.5 695.0L524.5 696.1L529.5 700.1L534.5 700.4L539.5 703.6L544.5 705.1L549.5 706.3L554.5 707.5L559.5 708.3L564.5 707.6L569.5 710.4L574.5 710.8L579.5 709.8L584.5 711.8L589.5 711.2L594.5 713.0L599.5 712.0L604.5 714.0L609.5 712.7L614.5 714.9L619.5 713.1L624.5 715.5L629.5 714.1L634.5 715.8L638.0 715.8" fill="none" stroke="#e01ec8" stroke-width="4.0" stroke-linejoin="round" stroke-dasharray="20 21"/>
<path d="M64.5 710.8L69.5 711.2L74.5 710.7L79.5 711.0L84.5 710.4L89.5 710.8L94.5 710.8L99.5 710.3L104.5 710.6L109.5 709.9L114.5 710.2L119.5 709.5L124.5 709.7L129.5 709.1L134.5 708.6L139.5 708.7L144.5 707.8L149.5 707.0L154.5 706.6L159.5 705.3L164.5 704.4L169.5 702.7L174.5 701.4L179.5 699.3L184.5 696.7L189.5 694.6L194.5 691.3L199.5 688.3L204.5 685.6L209.5 682.1L214.5 679.1L219.5 676.6L224.5 673.9L229.5 672.7L234.5 671.8L239.5 671.4L244.5 672.1L249.5 673.5L254.5 674.7L259.5 677.1L264.5 678.9L269.5 681.8L274.5 684.4L279.5 687.0L284.5 689.1L289.5 691.8L294.5 693.2L299.5 695.3L304.5 696.7L309.5 697.1L314.5 698.1L319.5 697.6L324.5 696.9L329.5 695.8L334.5 694.2L339.5 691.2L344.5 688.1L349.5 683.1L354.5 678.0L359.5 670.7L364.5 663.0L369.5 653.5L374.5 642.1L379.5 630.0L384.5 615.5L389.5 600.6L394.5 583.5L399.5 566.5L404.5 548.2L409.5 530.7L414.5 513.1L419.5 496.8L424.5 481.9L429.5 469.9L434.5 461.7L439.5 456.9L444.5 456.4L449.5 462.3L454.5 472.8L459.5 488.8L464.5 506.5L469.5 526.6L474.5 546.3L479.5 566.3L484.5 584.5L489.5 601.9L494.5 617.3L499.5 630.5L504.5 642.8L509.5 652.8L514.5 661.9L519.5 668.9L524.5 675.0L529.5 680.6L534.5 684.4L539.5 688.4L544.5 691.2L549.5 693.3L554.5 695.7L559.5 697.0L564.5 698.5L569.5 700.3L574.5 701.0L579.5 702.5L584.5 703.0L589.5 704.3L594.5 704.9L599.5 705.3L604.5 706.2L609.5 706.8L614.5 706.9L619.5 707.9L624.5 708.3L629.5 708.2L634.5 709.2L638.0 708.9" fill="none" stroke="#0a0a0a" stroke-width="4.0" stroke-linejoin="round"/>
</g>
<g clip-path="url(#clc)">
<path d="M663.5 701.3L669.0 714.5L674.5 700.5L680.0 701.1L685.5 712.3L691.0 699.6L696.5 712.0L702.0 701.1L707.5 710.4L713.0 697.3L718.5 712.0L724.0 698.4L729.5 712.5L735.0 698.0L740.5 712.7L746.0 701.6L751.5 715.4L757.0 702.6L762.5 711.9L768.0 703.4L773.5 716.4L779.0 715.1L784.5 697.5L790.0 706.7L795.5 694.4L800.6 699.2L806.5 688.8L812.0 701.8L817.5 690.8L823.0 701.9L828.5 688.2L834.0 688.5L839.5 702.8L845.0 689.8L847.5 692.6L850.5 701.2L856.0 687.1L861.5 700.4L867.0 688.5L872.5 699.6L878.0 683.8L883.5 682.1L889.0 690.4L894.4 681.6L900.0 688.1L906.0 672.9L911.0 674.2L917.8 650.9L922.0 655.7L929.5 640.6L933.0 619.5L938.5 604.0L941.2 604.8L944.0 590.1L950.0 577.7L957.1 527.0L961.0 511.4L966.0 491.9L971.0 487.9L977.0 443.9L982.9 451.5L988.8 430.6L994.8 419.2L998.8 465.6L1002.7 426.5L1008.7 467.6L1012.6 516.4L1015.5 512.3L1018.6 529.7L1022.5 545.4L1027.5 578.0L1029.7 590.2L1036.7 604.9L1041.4 655.1L1048.4 637.9L1055.5 661.0L1059.5 675.3L1067.2 673.1L1070.5 681.7L1076.0 684.5L1081.5 675.0L1087.0 694.7L1090.6 684.5L1098.0 681.7L1103.5 692.5L1109.0 691.7L1114.5 683.2L1120.0 692.8L1125.8 685.7L1131.0 692.7L1136.5 685.4L1142.0 685.2L1147.5 688.9L1153.0 704.0L1160.9 694.4L1164.0 702.2L1169.5 693.2L1175.0 705.2L1180.5 703.0L1186.0 690.9L1191.5 700.9L1197.0 685.2L1202.5 700.0L1207.8 691.2L1213.5 685.8L1219.0 698.2L1224.5 687.3L1230.0 703.6L1236.0 697.8" fill="none" stroke="#2ce6e6" stroke-width="4.0" stroke-linejoin="round"/>
<path d="M663.5 695.1L669.5 697.8L675.5 697.4L681.5 692.0L687.5 697.7L693.5 697.3L700.0 694.1L705.5 698.4L711.5 697.4L717.5 692.7L723.5 697.0L729.5 693.5L735.5 696.8L741.5 696.8L747.5 692.4L753.5 692.1L760.0 695.8L765.5 693.2L771.5 696.1L777.5 690.8L783.5 695.3L790.0 691.4L795.5 693.5L801.5 686.3L805.0 686.7L813.5 675.8L819.5 667.4L824.0 664.9L831.5 652.4L837.5 647.4L842.8 637.1L849.5 629.4L855.5 614.4L859.2 609.3L868.0 591.2L873.5 587.5L879.8 575.9L885.5 549.6L889.7 534.1L897.5 506.4L901.6 497.9L911.5 468.2L917.0 455.8L921.4 441.7L923.4 439.7L927.4 450.9L933.5 475.2L937.3 483.9L945.2 506.2L951.2 524.3L959.1 551.6L961.7 563.1L968.7 584.4L975.5 594.2L982.8 598.1L987.5 609.7L992.2 620.2L999.5 630.7L1005.5 639.9L1008.6 647.7L1011.5 646.3L1017.5 652.7L1025.0 662.1L1029.5 661.9L1035.5 671.2L1041.5 670.5L1047.5 678.6L1050.8 676.4L1053.5 681.5L1059.5 678.3L1065.5 684.1L1071.5 680.2L1077.5 686.5L1083.5 683.8L1090.6 687.2L1095.5 685.5L1101.5 686.9L1107.5 687.0L1113.5 693.7L1119.5 689.8L1125.5 694.7L1131.5 696.7L1137.5 691.0L1143.5 696.8L1149.5 693.4L1155.5 697.8L1160.9 695.0L1167.5 698.3L1173.5 697.5L1179.5 693.0L1185.5 697.1L1191.5 692.7L1197.5 697.1L1203.5 692.3L1209.5 694.9L1215.5 689.8L1221.5 694.4L1227.5 688.4L1236.0 690.3" fill="none" stroke="#e01ec8" stroke-width="4.0" stroke-linejoin="round" stroke-dasharray="20 21"/>
<path d="M663.5 708.0L667.5 706.0L671.5 709.5L675.5 706.4L679.5 709.7L683.5 707.4L687.5 709.9L691.5 707.4L695.5 709.7L699.5 707.4L703.5 708.1L706.9 708.3L711.5 710.3L715.5 706.6L719.5 709.2L723.5 705.7L727.5 707.4L731.5 704.7L735.5 706.6L739.5 703.4L742.0 704.6L747.5 702.3L751.5 701.8L755.5 704.3L759.5 703.2L763.5 700.4L767.5 702.2L771.5 699.7L777.2 699.8L779.5 700.0L783.5 695.9L787.5 696.2L791.5 691.9L795.5 692.1L800.6 687.1L803.5 686.3L807.5 680.6L811.5 678.8L815.5 671.9L819.5 670.1L824.0 662.5L827.5 659.7L831.5 652.7L835.5 649.1L839.5 641.3L842.8 637.9L847.5 628.4L851.5 622.1L855.5 614.5L859.2 609.8L863.5 598.1L866.2 593.2L871.5 581.0L873.9 577.7L879.5 558.3L881.8 553.1L887.5 539.6L891.7 533.3L895.5 522.4L899.5 513.7L903.6 502.8L907.5 497.9L911.5 488.5L913.5 488.0L915.5 483.5L919.5 481.5L923.4 476.1L927.5 475.0L933.3 471.4L935.5 471.1L940.0 477.3L943.5 476.1L947.2 478.5L953.2 487.3L955.5 492.0L959.5 492.5L965.0 498.9L967.5 503.7L971.5 508.3L975.0 517.5L979.5 526.5L984.9 541.4L987.5 544.1L992.8 553.2L995.5 558.8L1000.7 578.7L1003.5 583.4L1008.6 595.6L1011.5 601.1L1015.5 614.0L1020.3 624.9L1023.5 635.6L1027.5 643.1L1032.0 654.4L1035.5 658.4L1039.5 666.8L1043.7 669.7L1047.5 675.4L1051.5 677.0L1055.5 680.3L1060.1 684.7L1063.5 684.3L1067.5 688.7L1071.5 688.1L1075.5 689.2L1079.5 690.9L1083.5 695.2L1087.5 693.8L1090.6 696.3L1095.5 696.6L1099.5 700.7L1103.5 699.4L1107.5 703.0L1111.5 700.8L1114.0 702.4L1119.5 705.2L1123.5 702.6L1127.5 703.4L1131.5 703.4L1135.5 706.3L1139.5 707.1L1143.5 704.3L1147.5 707.4L1151.5 707.6L1155.5 704.5L1160.9 706.8L1163.5 705.3L1167.5 707.8L1171.5 707.7L1175.5 706.1L1179.5 705.9L1183.5 709.0L1187.5 706.8L1191.5 709.4L1195.5 706.7L1199.5 709.0L1203.5 706.4L1207.5 709.7L1211.5 707.1L1215.5 709.4L1219.5 706.9L1223.5 710.1L1227.5 710.1L1231.5 707.7L1236.0 709.4" fill="none" stroke="#0a0a0a" stroke-width="4.0" stroke-linejoin="round"/>
</g>
<rect x="62.25" y="3.75" width="587.00" height="330.35" fill="none" stroke="#000" stroke-width="4.0"/>
<rect x="661.50" y="3.75" width="582.75" height="330.55" fill="none" stroke="#000" stroke-width="4.1"/>
<rect x="59.50" y="410.20" width="582.50" height="326.80" fill="none" stroke="#000" stroke-width="4.2"/>
<rect x="658.40" y="410.50" width="581.70" height="320.10" fill="none" stroke="#000" stroke-width="4.2"/>
<rect x="60.5" y="0" width="590.5" height="2" fill="#a9a9a9"/>
<rect x="659.5" y="0" width="587" height="2" fill="#a9a9a9"/>
<line x1="117.5" y1="336.0" x2="117.5" y2="352.0" stroke="#000" stroke-width="3.9"/>
<line x1="196.3" y1="336.0" x2="196.3" y2="344.0" stroke="#000" stroke-width="3.9"/>
<line x1="275.2" y1="336.0" x2="275.2" y2="348.0" stroke="#000" stroke-width="3.9"/>
<line x1="354.0" y1="336.0" x2="354.0" y2="344.0" stroke="#000" stroke-width="3.9"/>
<line x1="432.9" y1="336.0" x2="432.9" y2="352.0" stroke="#000" stroke-width="3.9"/>
<line x1="511.8" y1="336.0" x2="511.8" y2="344.0" stroke="#000" stroke-width="3.9"/>
<line x1="590.6" y1="336.0" x2="590.6" y2="348.0" stroke="#000" stroke-width="3.9"/>
<line x1="693.2" y1="336.4" x2="693.2" y2="348.4" stroke="#000" stroke-width="3.9"/>
<line x1="741.3" y1="336.4" x2="741.3" y2="344.4" stroke="#000" stroke-width="3.9"/>
<line x1="789.5" y1="336.4" x2="789.5" y2="352.4" stroke="#000" stroke-width="3.9"/>
<line x1="837.7" y1="336.4" x2="837.7" y2="344.4" stroke="#000" stroke-width="3.9"/>
<line x1="885.8" y1="336.4" x2="885.8" y2="348.4" stroke="#000" stroke-width="3.9"/>
<line x1="934.0" y1="336.4" x2="934.0" y2="344.4" stroke="#000" stroke-width="3.9"/>
<line x1="982.2" y1="336.4" x2="982.2" y2="352.4" stroke="#000" stroke-width="3.9"/>
<line x1="1030.3" y1="336.4" x2="1030.3" y2="344.4" stroke="#000" stroke-width="3.9"/>
<line x1="1078.5" y1="336.4" x2="1078.5" y2="348.4" stroke="#000" stroke-width="3.9"/>
<line x1="1126.7" y1="336.4" x2="1126.7" y2="344.4" stroke="#000" stroke-width="3.9"/>
<line x1="1174.9" y1="336.4" x2="1174.9" y2="352.4" stroke="#000" stroke-width="3.9"/>
<line x1="1223.0" y1="336.4" x2="1223.0" y2="344.4" stroke="#000" stroke-width="3.9"/>
<line x1="65.3" y1="739.0" x2="65.3" y2="754.8" stroke="#000" stroke-width="3.9"/>
<line x1="122.4" y1="739.0" x2="122.4" y2="747.2" stroke="#000" stroke-width="3.9"/>
<line x1="179.5" y1="739.0" x2="179.5" y2="750.8" stroke="#000" stroke-width="3.9"/>
<line x1="236.6" y1="739.0" x2="236.6" y2="747.2" stroke="#000" stroke-width="3.9"/>
<line x1="293.7" y1="739.0" x2="293.7" y2="754.8" stroke="#000" stroke-width="3.9"/>
<line x1="350.8" y1="739.0" x2="350.8" y2="747.2" stroke="#000" stroke-width="3.9"/>
<line x1="407.9" y1="739.0" x2="407.9" y2="750.8" stroke="#000" stroke-width="3.9"/>
<line x1="465.0" y1="739.0" x2="465.0" y2="747.2" stroke="#000" stroke-width="3.9"/>
<line x1="522.1" y1="739.0" x2="522.1" y2="754.8" stroke="#000" stroke-width="3.9"/>
<line x1="579.2" y1="739.0" x2="579.2" y2="747.2" stroke="#000" stroke-width="3.9"/>
<line x1="636.3" y1="739.0" x2="636.3" y2="750.8" stroke="#000" stroke-width="3.9"/>
<line x1="663.8" y1="732.6" x2="663.8" y2="748.1" stroke="#000" stroke-width="3.9"/>
<line x1="735.1" y1="732.6" x2="735.1" y2="740.1" stroke="#000" stroke-width="3.9"/>
<line x1="806.5" y1="732.6" x2="806.5" y2="744.1" stroke="#000" stroke-width="3.9"/>
<line x1="877.8" y1="732.6" x2="877.8" y2="740.1" stroke="#000" stroke-width="3.9"/>
<line x1="949.2" y1="732.6" x2="949.2" y2="748.1" stroke="#000" stroke-width="3.9"/>
<line x1="1020.5" y1="732.6" x2="1020.5" y2="740.1" stroke="#000" stroke-width="3.9"/>
<line x1="1091.9" y1="732.6" x2="1091.9" y2="744.1" stroke="#000" stroke-width="3.9"/>
<line x1="1163.2" y1="732.6" x2="1163.2" y2="740.1" stroke="#000" stroke-width="3.9"/>
<line x1="1234.6" y1="732.6" x2="1234.6" y2="748.1" stroke="#000" stroke-width="3.9"/>
<g transform="translate(83.44,394.60) scale(1,1.050)"><text x="0" y="0" font-family="Liberation Sans, sans-serif" font-weight="bold" font-size="35.0" style="font-kerning:none">5.50</text></g>
<g transform="translate(398.24,394.60) scale(1,1.050)"><text x="0" y="0" font-family="Liberation Sans, sans-serif" font-weight="bold" font-size="35.0" style="font-kerning:none">5.55</text></g>
<g transform="translate(745.41,394.40) scale(1,1.050)"><text x="0" y="0" font-family="Liberation Sans, sans-serif" font-weight="bold" font-size="35.0" style="font-kerning:none">  .05</text><path d="M831 0H550V1059Q396 915 187 846V1101Q297 1137 426 1237Q555 1337 603 1466H831Z" transform="translate(0.00,0) scale(0.01709,-0.01661)"/><path d="M831 0H550V1059Q396 915 187 846V1101Q297 1137 426 1237Q555 1337 603 1466H831Z" transform="translate(19.47,0) scale(0.01709,-0.01661)"/></g>
<g transform="translate(937.71,394.40) scale(1,1.050)"><text x="0" y="0" font-family="Liberation Sans, sans-serif" font-weight="bold" font-size="35.0" style="font-kerning:none">  . 0</text><path d="M831 0H550V1059Q396 915 187 846V1101Q297 1137 426 1237Q555 1337 603 1466H831Z" transform="translate(0.00,0) scale(0.01709,-0.01661)"/><path d="M831 0H550V1059Q396 915 187 846V1101Q297 1137 426 1237Q555 1337 603 1466H831Z" transform="translate(19.47,0) scale(0.01709,-0.01661)"/><path d="M831 0H550V1059Q396 915 187 846V1101Q297 1137 426 1237Q555 1337 603 1466H831Z" transform="translate(48.65,0) scale(0.01709,-0.01661)"/></g>
<g transform="translate(1130.91,394.40) scale(1,1.050)"><text x="0" y="0" font-family="Liberation Sans, sans-serif" font-weight="bold" font-size="35.0" style="font-kerning:none">  . 5</text><path d="M831 0H550V1059Q396 915 187 846V1101Q297 1137 426 1237Q555 1337 603 1466H831Z" transform="translate(0.00,0) scale(0.01709,-0.01661)"/><path d="M831 0H550V1059Q396 915 187 846V1101Q297 1137 426 1237Q555 1337 603 1466H831Z" transform="translate(19.47,0) scale(0.01709,-0.01661)"/><path d="M831 0H550V1059Q396 915 187 846V1101Q297 1137 426 1237Q555 1337 603 1466H831Z" transform="translate(48.65,0) scale(0.01709,-0.01661)"/></g>
<g transform="translate(21.01,797.30) scale(1,1.050)"><text x="0" y="0" font-family="Liberation Sans, sans-serif" font-weight="bold" font-size="35.0" style="font-kerning:none"> 6.60</text><path d="M831 0H550V1059Q396 915 187 846V1101Q297 1137 426 1237Q555 1337 603 1466H831Z" transform="translate(0.00,0) scale(0.01709,-0.01661)"/></g>
<g transform="translate(248.71,797.30) scale(1,1.050)"><text x="0" y="0" font-family="Liberation Sans, sans-serif" font-weight="bold" font-size="35.0" style="font-kerning:none"> 6.70</text><path d="M831 0H550V1059Q396 915 187 846V1101Q297 1137 426 1237Q555 1337 603 1466H831Z" transform="translate(0.00,0) scale(0.01709,-0.01661)"/></g>
<g transform="translate(477.71,797.30) scale(1,1.050)"><text x="0" y="0" font-family="Liberation Sans, sans-serif" font-weight="bold" font-size="35.0" style="font-kerning:none"> 6.80</text><path d="M831 0H550V1059Q396 915 187 846V1101Q297 1137 426 1237Q555 1337 603 1466H831Z" transform="translate(0.00,0) scale(0.01709,-0.01661)"/></g>
<g transform="translate(620.71,790.60) scale(1,1.050)"><text x="0" y="0" font-family="Liberation Sans, sans-serif" font-weight="bold" font-size="35.0" style="font-kerning:none">22.20</text></g>
<g transform="translate(905.21,790.60) scale(1,1.050)"><text x="0" y="0" font-family="Liberation Sans, sans-serif" font-weight="bold" font-size="35.0" style="font-kerning:none">22.30</text></g>
<g transform="translate(1189.21,790.60) scale(1,1.050)"><text x="0" y="0" font-family="Liberation Sans, sans-serif" font-weight="bold" font-size="35.0" style="font-kerning:none">22.40</text></g>
<g transform="translate(28.3,330) rotate(-90) scale(1,1.03)"><text x="0" y="0" font-family="Liberation Sans, sans-serif" font-weight="bold" font-size="35.3">Normalized counts</text></g>
<g transform="translate(28.3,723.5) rotate(-90) scale(1,1.03)"><text x="0" y="0" font-family="Liberation Sans, sans-serif" font-weight="bold" font-size="35.3">Normalized counts</text></g>
<g transform="translate(327.60,848.00) scale(1,1.03)"><text x="0" y="0" font-family="Liberation Sans, sans-serif" font-weight="bold" font-size="35" style="font-kerning:none">2<tspan dx="1.2" font-family="Liberation Serif, serif" font-weight="normal" stroke="#000" stroke-width="0.7">θ</tspan><tspan dx="1.2">,</tspan></text></g><text x="385.50" y="826.50" font-family="Liberation Sans, sans-serif" font-weight="bold" font-size="25.7">o</text>
<g transform="translate(925.90,849.70) scale(1,1.03)"><text x="0" y="0" font-family="Liberation Sans, sans-serif" font-weight="bold" font-size="35" style="font-kerning:none">2<tspan dx="1.2" font-family="Liberation Serif, serif" font-weight="normal" stroke="#000" stroke-width="0.7">θ</tspan><tspan dx="1.2">,</tspan></text></g><text x="983.80" y="828.30" font-family="Liberation Sans, sans-serif" font-weight="bold" font-size="25.7">o</text>
<line x1="122.6" y1="146.3" x2="184.1" y2="146.3" stroke="#0a0a0a" stroke-width="4"/>
<line x1="122.6" y1="181.9" x2="184.1" y2="181.9" stroke="#2ce6e6" stroke-width="4"/>
<line x1="122.6" y1="217.2" x2="143" y2="217.2" stroke="#e01ec8" stroke-width="4"/>
<line x1="164.3" y1="217.2" x2="184.1" y2="217.2" stroke="#e01ec8" stroke-width="4"/>
<g transform="translate(197.00,156.00) scale(1,1.060)"><text x="0" y="0" font-family="Liberation Sans, sans-serif" font-weight="bold" font-size="29.0" style="font-kerning:none">E </text><path d="M831 0H550V1059Q396 915 187 846V1101Q297 1137 426 1237Q555 1337 603 1466H831Z" transform="translate(19.34,0) scale(0.01416,-0.01363)"/></g>
<g transform="translate(197.00,191.50) scale(1,1.060)"><text x="0" y="0" font-family="Liberation Sans, sans-serif" font-weight="bold" font-size="29.0" style="font-kerning:none">E3</text></g>
<g transform="translate(197.00,227.30) scale(1,1.060)"><text x="0" y="0" font-family="Liberation Sans, sans-serif" font-weight="bold" font-size="29.0" style="font-kerning:none">E4</text></g>
<g transform="translate(540.50,209.80) scale(1,1.000)"><text x="0" y="0" font-family="Liberation Sans, sans-serif" font-weight="bold" font-size="61.0" style="font-kerning:none">(a)</text></g>
<g transform="translate(702.00,209.50) scale(1,1.000)"><text x="0" y="0" font-family="Liberation Sans, sans-serif" font-weight="bold" font-size="61.0" style="font-kerning:none">(b)</text></g>
<g transform="translate(540.50,596.60) scale(1,1.000)"><text x="0" y="0" font-family="Liberation Sans, sans-serif" font-weight="bold" font-size="61.0" style="font-kerning:none">(d)</text></g>
<g transform="translate(702.00,596.60) scale(1,1.000)"><text x="0" y="0" font-family="Liberation Sans, sans-serif" font-weight="bold" font-size="61.0" style="font-kerning:none">(c)</text></g>
<g transform="translate(451.80,64.80) scale(1,1.000)"><text x="0" y="0" font-family="Liberation Sans, sans-serif" font-weight="bold" font-size="31.0" style="font-kerning:none">(0,0,3)</text></g>
<g transform="translate(1056.70,64.50) scale(1,1.000)"><text x="0" y="0" font-family="Liberation Sans, sans-serif" font-weight="bold" font-size="31.0" style="font-kerning:none">(0,0,6)</text></g>
<g transform="translate(479.00,463.30) scale(1,1.000)"><text x="0" y="0" font-family="Liberation Sans, sans-serif" font-weight="bold" font-size="31.0" style="font-kerning:none">( ,0,7)</text><path d="M831 0H550V1059Q396 915 187 846V1101Q297 1137 426 1237Q555 1337 603 1466H831Z" transform="translate(10.32,0) scale(0.01514,-0.01514)"/></g>
<g transform="translate(193.00,652.00) scale(1,1.000)"><text x="0" y="0" font-family="Liberation Sans, sans-serif" font-weight="bold" font-size="31.0" style="font-kerning:none">(0,0,9)</text></g>
<g transform="translate(1052.00,475.50) scale(1,1.000)"><text x="0" y="0" font-family="Liberation Sans, sans-serif" font-weight="bold" font-size="31.0" style="font-kerning:none">(0,0, 2)</text><path d="M831 0H550V1059Q396 915 187 846V1101Q297 1137 426 1237Q555 1337 603 1466H831Z" transform="translate(62.03,0) scale(0.01514,-0.01514)"/></g>
</svg>
</body></html>
